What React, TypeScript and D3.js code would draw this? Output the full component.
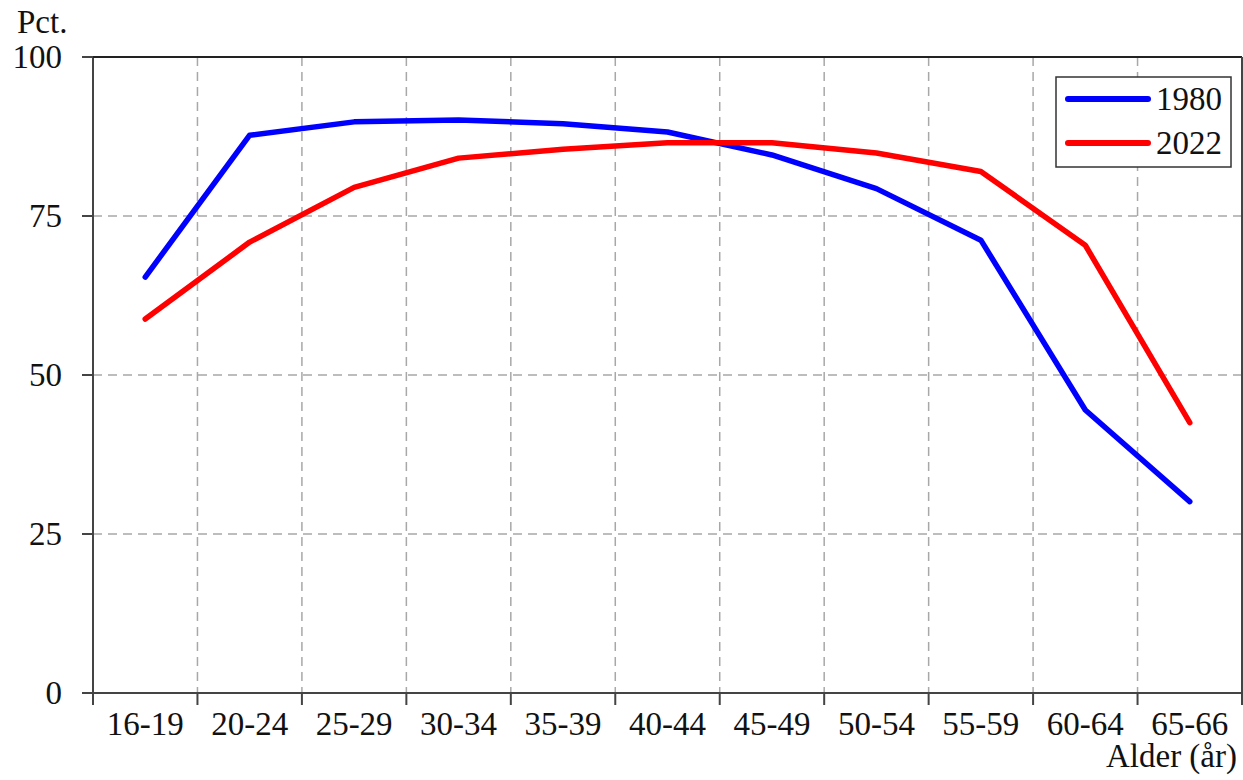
import React from "react";
import * as d3 from "d3";

const categories = ["16-19", "20-24", "25-29", "30-34", "35-39", "40-44", "45-49", "50-54", "55-59", "60-64", "65-66"];
const series1980 = [65.4, 87.7, 89.8, 90.1, 89.5, 88.2, 84.6, 79.3, 71.2, 44.5, 30.1];
const series2022 = [58.8, 70.9, 79.5, 84.1, 85.5, 86.5, 86.5, 84.9, 82.0, 70.4, 42.5];
const yTicks = [0, 25, 50, 75, 100];
const seriesNames = ["1980", "2022"];
const seriesColors = ["#0000ff", "#ff0000"];

const W = 1243;
const H = 780;
const left = 93;
const right = 1242;
const top = 57;
const bottom = 693;
const FONT = "'Liberation Serif', 'Times New Roman', serif";

export default function App() {
  const x = d3.scaleBand<string>().domain(categories).range([left, right]).paddingInner(0).paddingOuter(0);
  const y = d3.scaleLinear().domain([0, 100]).range([bottom, top]);
  const line = d3
    .line<number>()
    .x((_, i) => (x(categories[i]) as number) + x.bandwidth() / 2)
    .y((d) => y(d));
  const data = [series1980, series2022];
  const boundaries = categories.map((c) => x(c) as number).concat([right]);

  return (
    <svg
      width={W}
      height={H}
      style={{ position: "absolute", left: 0, top: 0, background: "#fff" }}
      fontFamily={FONT}
    >
      <rect x={0} y={0} width={W} height={H} fill="#fff" />
      {/* horizontal grid */}
      {yTicks
        .filter((t) => t > 0 && t < 100)
        .map((t) => (
          <line key={"hg" + t} x1={left} x2={right} y1={y(t)} y2={y(t)} stroke="#a8a8a8" strokeWidth={1.5} strokeDasharray="9,6" />
        ))}
      {/* vertical grid */}
      {boundaries.slice(1, -1).map((b, i) => (
        <line key={"vg" + i} x1={b} x2={b} y1={top} y2={bottom} stroke="#a8a8a8" strokeWidth={1.5} strokeDasharray="9,6" />
      ))}
      {/* frame */}
      <line x1={left} x2={left} y1={top} y2={bottom + 12} stroke="#444" strokeWidth={2} />
      <line x1={left - 11} x2={right} y1={bottom} y2={bottom} stroke="#444" strokeWidth={2} />
      <line x1={left - 11} x2={right} y1={top} y2={top} stroke="#222" strokeWidth={2} />
      <line x1={right} x2={right} y1={top} y2={bottom + 12} stroke="#444" strokeWidth={2} />
      {/* y ticks */}
      {yTicks.map((t) => (
        <g key={"yt" + t}>
          <line x1={left - 11} x2={left} y1={y(t)} y2={y(t)} stroke="#444" strokeWidth={2} />
          <text x={62} y={y(t) + 11} textAnchor="end" fontSize={33} fill="#111">
            {t}
          </text>
        </g>
      ))}
      {/* x ticks */}
      {boundaries.map((b, i) => (
        <line key={"xt" + i} x1={b} x2={b} y1={bottom} y2={bottom + 12} stroke="#444" strokeWidth={2} />
      ))}
      {categories.map((c) => (
        <text key={c} x={(x(c) as number) + x.bandwidth() / 2} y={735} textAnchor="middle" fontSize={33} fill="#111">
          {c}
        </text>
      ))}
      <text x={17} y={33} fontSize={33} fill="#111">
        Pct.
      </text>
      <text x={1237} y={767} textAnchor="end" fontSize={33} fill="#111">
        Alder (år)
      </text>
      {/* lines */}
      {data.map((s, i) => (
        <path
          key={"s" + i}
          d={line(s) || ""}
          fill="none"
          stroke={seriesColors[i]}
          strokeWidth={5.5}
          strokeLinejoin="round"
          strokeLinecap="round"
        />
      ))}
      {/* legend */}
      <rect x={1056} y={77} width={175} height={90} fill="#fff" stroke="#333" strokeWidth={1.5} />
      {seriesNames.map((n, i) => (
        <g key={n}>
          <line x1={1068} x2={1148} y1={99 + i * 44} y2={99 + i * 44} stroke={seriesColors[i]} strokeWidth={6} strokeLinecap="round" />
          <text x={1156} y={110 + i * 44} fontSize={33} fill="#111">
            {n}
          </text>
        </g>
      ))}
    </svg>
  );
}
